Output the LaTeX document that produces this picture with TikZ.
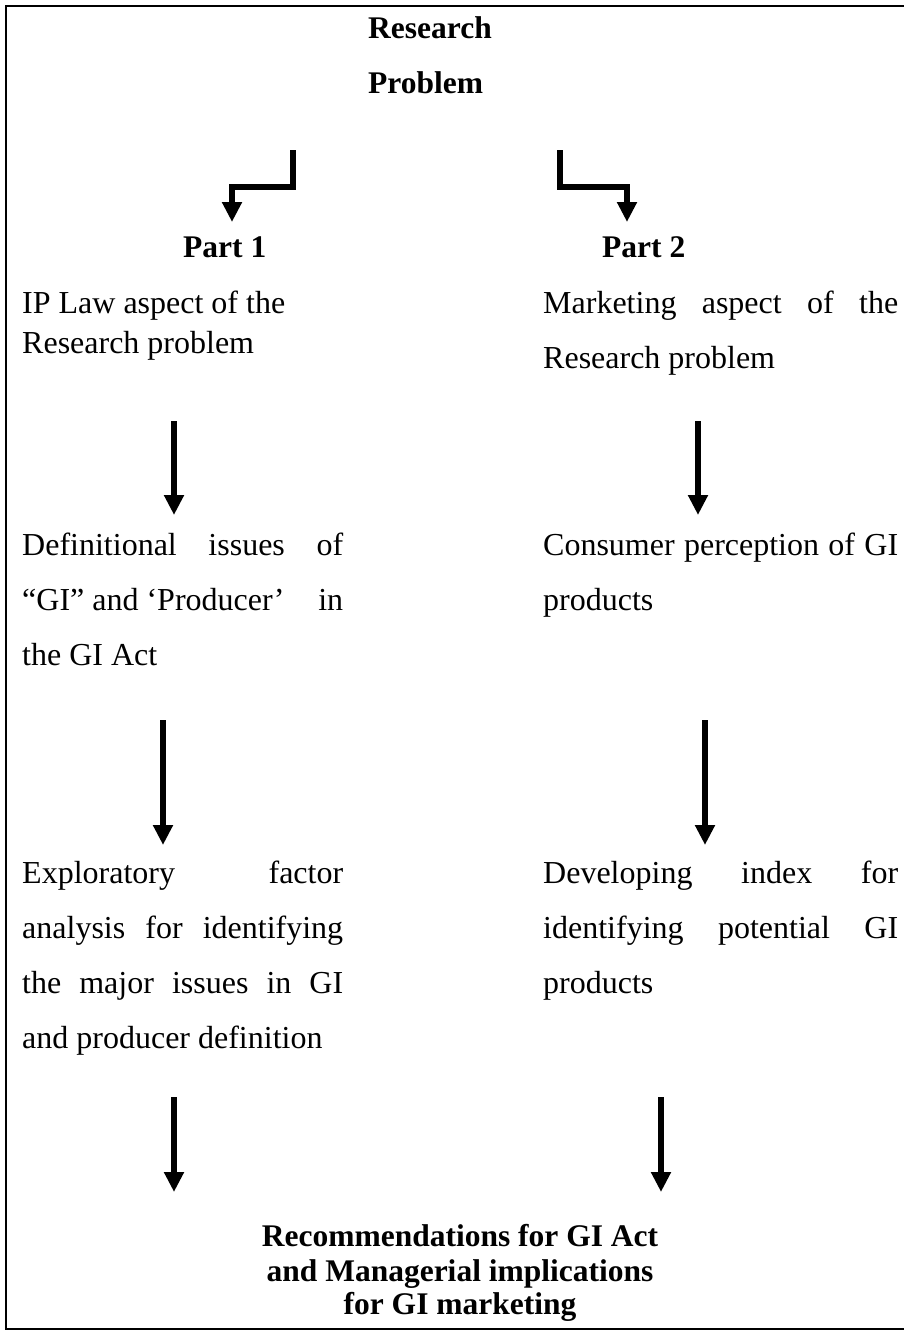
\documentclass[tikz,border=0pt]{standalone}
\usepackage{fontspec}
\setmainfont{Liberation Serif}
\usetikzlibrary{arrows.meta}
\begin{document}
\begin{tikzpicture}[x=1pt,y=-1pt,
  txt/.style={anchor=base west,inner sep=0pt,font=\fontsize{32}{38}\selectfont},
  hdr/.style={anchor=base west,inner sep=0pt,font=\fontsize{31.5}{38}\selectfont\bfseries},
  concl/.style={anchor=base,inner sep=0pt,font=\fontsize{31.5}{38}\selectfont\bfseries},
  flow/.style={line width=6pt,-{Triangle[width=19pt,length=20pt]}},
  frameline/.style={line width=2.5pt}]
\useasboundingbox (0,0) rectangle (904,1333);

% outer frame, open on the right-hand side
\draw[frameline] (904,6) -- (6,6) -- (6,1329) -- (904,1329);

% title
\node[hdr] (rp1) at (368,38) {Research};
\node[hdr] (rp2) at (368,93) {Problem};

% branch headings
\node[hdr] (p1) at (183,257) {Part 1};
\node[hdr] (p2) at (602,257) {Part 2};

% elbow arrows from the title to the two parts
\coordinate (l0) at (293,150);
\coordinate (l1) at (232,222);
\coordinate (r0) at (560,150);
\coordinate (r1) at (627,222);
\draw[flow] (l0) -- ++(0,37) -| (l1);
\draw[flow] (r0) -- ++(0,37) -| (r1);

% left column: IP law
\node[txt] (a1) at (22,313) {IP Law aspect of the};
\node[txt] (a2) at (22,353) {Research problem};
\node[txt] (b1) at (22,555) {\hbox to 321pt{Definitional\hfill issues\hfill of}};
\node[txt] (b2) at (22,610) {\hbox to 321pt{“GI” and ‘Producer’\hfill in}};
\node[txt] (b3) at (22,665) {the GI Act};
\node[txt] (c1) at (22,883) {\hbox to 321pt{Exploratory\hfill factor}};
\node[txt] (c2) at (22,938) {\hbox to 321pt{analysis\hfill for\hfill identifying}};
\node[txt] (c3) at (22,993) {\hbox to 321pt{the\hfill major\hfill issues\hfill in\hfill GI}};
\node[txt] (c4) at (22,1048) {and producer definition};

% right column: marketing
\node[txt] (m1) at (543,313) {\hbox to 355pt{Marketing\hfill aspect\hfill of\hfill the}};
\node[txt] (m2) at (543,368) {Research problem};
\node[txt] (n1) at (543,555) {\hbox to 355pt{Consumer\hfill perception\hfill of\hfill GI}};
\node[txt] (n2) at (543,610) {products};
\node[txt] (o1) at (543,883) {\hbox to 355pt{Developing\hfill index\hfill for}};
\node[txt] (o2) at (543,938) {\hbox to 355pt{identifying\hfill potential\hfill GI}};
\node[txt] (o3) at (543,993) {products};

% conclusion
\node[concl] (k1) at (460,1246) {Recommendations for GI Act};
\node[concl] (k2) at (460,1281) {and Managerial implications};
\node[concl] (k3) at (460,1314) {for GI marketing};

% vertical arrows between stages
\coordinate (la1) at (174,421);  \coordinate (lb1) at (174,515);
\coordinate (ra1) at (698,421);  \coordinate (rb1) at (698,515);
\coordinate (la2) at (163,720);  \coordinate (lb2) at (163,845);
\coordinate (ra2) at (705,720);  \coordinate (rb2) at (705,845);
\coordinate (la3) at (174,1097); \coordinate (lb3) at (174,1192);
\coordinate (ra3) at (661,1097); \coordinate (rb3) at (661,1192);
\draw[flow] (la1) -- (lb1);
\draw[flow] (ra1) -- (rb1);
\draw[flow] (la2) -- (lb2);
\draw[flow] (ra2) -- (rb2);
\draw[flow] (la3) -- (lb3);
\draw[flow] (ra3) -- (rb3);
\end{tikzpicture}
\end{document}
